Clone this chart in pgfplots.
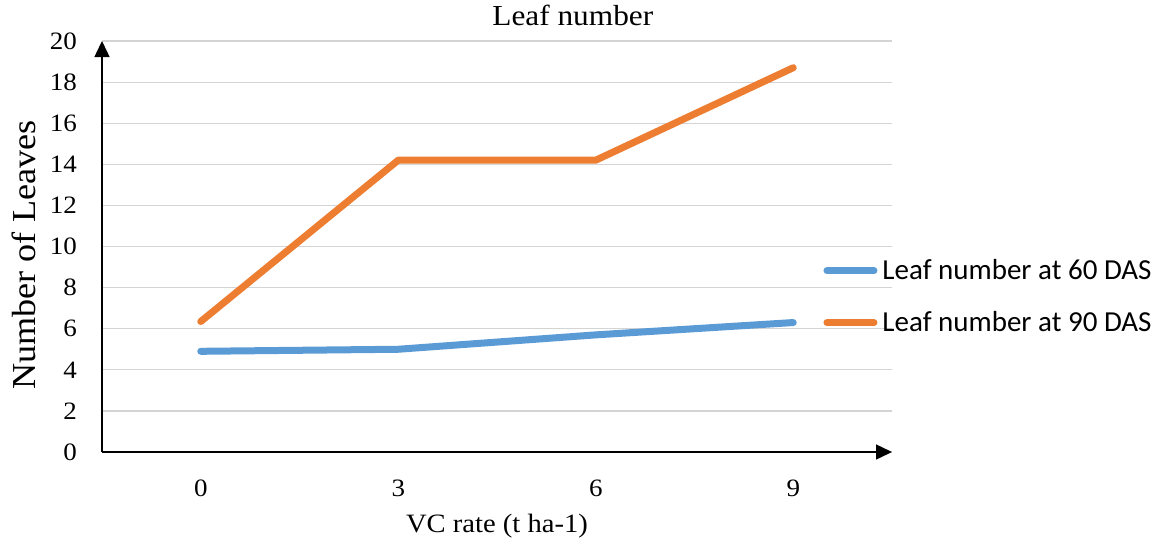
\documentclass[border=0pt]{standalone}
\usepackage{pgfplots}
\pgfplotsset{compat=1.18}
\usepackage{fontspec}
\setmainfont[FakeStretch=1.08]{Liberation Serif}
\newfontfamily\legfont{Carlito}
\usetikzlibrary{arrows.meta}
\definecolor{cblue}{HTML}{5B9BD5}
\definecolor{corange}{HTML}{ED7D31}
\begin{document}
\begin{tikzpicture}
\path[use as bounding box] (0,0) rectangle (1164bp,-544bp);
\begin{axis}[
  at={(102bp,-452bp)}, anchor=south west,
  scale only axis, width=790bp, height=411bp,
  xmin=-0.5, xmax=3.5, ymin=0, ymax=20,
  xtick={0,1,2,3}, xticklabels={0,3,6,9},
  ytick={0,2,...,20},
  axis x line=bottom, axis y line=left,
  axis line style={black, line width=1.5bp, -{Triangle[length=16bp,width=15bp]}},
  major tick length=0pt,
  tick style={draw=none},
  ymajorgrids,
  grid style={color=black!17, line width=1.2bp},
  /pgf/number format/assume math mode=true,
  ticklabel style={font=\fontsize{25bp}{30bp}\selectfont, inner sep=0pt},
  yticklabel style={anchor=east, xshift=-25bp},
  xticklabel style={anchor=north, yshift=-28bp},
  title={Leaf number},
  title style={at={(axis description cs:0.596,1.022)}, anchor=base, inner sep=0pt, font=\fontsize{29bp}{34bp}\selectfont},
  xlabel={VC rate (t ha-1)},
  xlabel style={at={(axis description cs:0.5,-0.197)}, anchor=base, inner sep=0pt, font=\fontsize{26.5bp}{32bp}\selectfont},
  ylabel={Number of Leaves},
  ylabel style={at={(axis description cs:-0.0848,0.479)}, anchor=base, inner sep=0pt, font=\fontsize{33.5bp}{38bp}\selectfont},
  legend style={at={(axis description cs:0.913,0.373)}, anchor=west, draw=none, fill=none, inner sep=0pt,
    font=\legfont\fontsize{29bp}{34bp}\selectfont,
    nodes={inner sep=0pt, text height=20bp, text depth=6bp},
    row sep=26bp,
    /tikz/every odd column/.append style={column sep=5bp}},
  legend cell align=left,
  legend image code/.code={\draw[#1, line width=7bp, line cap=round] (3.5bp,2bp) -- (50.5bp,2bp);},
  clip=false,
]
\addplot[color=cblue, line width=7bp, line cap=round, line join=round] coordinates {(0,4.9) (1,5.0) (2,5.7) (3,6.3)};
\addlegendentry{Leaf number at 60 DAS}
\addplot[color=corange, line width=7bp, line cap=round, line join=round] coordinates {(0,6.35) (1,14.2) (2,14.2) (3,18.7)};
\addlegendentry{Leaf number at 90 DAS}
\end{axis}
\end{tikzpicture}
\end{document}
